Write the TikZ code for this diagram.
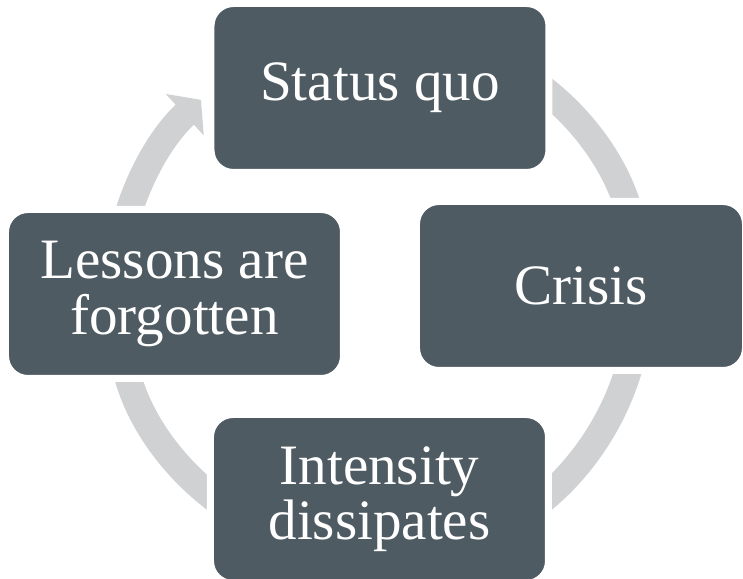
\documentclass[tikz,border=0pt]{standalone}
\usepackage{fontspec}
\setmainfont{Liberation Serif}
\usetikzlibrary{arrows.meta, backgrounds}
\definecolor{boxslate}{RGB}{78, 91, 98}
\definecolor{cyclegray}{RGB}{208, 209, 211}

\begin{document}
\begin{tikzpicture}[
    stage/.style={rectangle, fill=boxslate, draw=white, line width=0.14cm, rounded corners=0.45cm, minimum width=6.76cm, minimum height=3.38cm, align=center, text=white, inner sep=0pt, font=\fontsize{32.5}{31.5}\selectfont},
    cycarrow/.style={-{Triangle[length=0.44cm, width=1.1cm]}, line width=0.54cm, color=cyclegray}
]
\useasboundingbox (-7.56, -5.72) rectangle (7.30, 5.86);

% Stages
\node[stage] (sq) at (0.04, 4.10) {Status quo};
\node[stage, minimum width=6.58cm] (crisis) at (4.06, 0.14) {Crisis};
\node[stage] (intensity) at (0.03, -4.12) {Intensity\\dissipates};
\node[stage] (lessons) at (-4.07, -0.02) {Lessons are\\forgotten};

% Cycle arrows (behind the stages)
\begin{scope}[on background layer]
\coordinate (sqout) at (75:5.24);
\coordinate (crisisout) at (-8:5.24);
\coordinate (intensityout) at (-105:5.24);
\coordinate (lessonsout) at (170:5.24);

\draw[cycarrow] (sqout) arc[start angle=75, end angle=8, radius=5.24];
\draw[cycarrow] (crisisout) arc[start angle=-8, end angle=-75, radius=5.24];
\draw[cycarrow] (intensityout) arc[start angle=-105, end angle=-170, radius=5.24];
\draw[cycarrow] (lessonsout) arc[start angle=170, end angle=132.5, radius=5.24];
\end{scope}

\end{tikzpicture}
\end{document}
